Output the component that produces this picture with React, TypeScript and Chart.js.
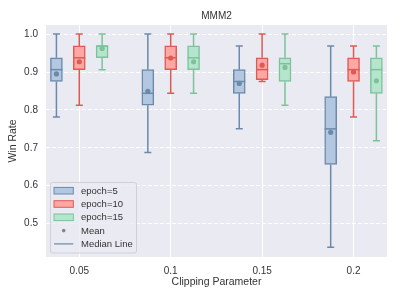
import React, { useEffect, useRef } from "react";
import { Chart, registerables } from "chart.js";

Chart.register(...registerables);

const chartTitle = "MMM2";
const xTitle = "Clipping Parameter";
const yTitle = "Win Rate";
const clipParams = [0.05, 0.1, 0.15, 0.2];
const xTickValues = [0.05, 0.1, 0.15, 0.2];
const yTickValues = [0.5, 0.6, 0.7, 0.8, 0.9, 1.0];
const seriesLabels = ["epoch=5", "epoch=10", "epoch=15"];

const e5Min = [0.78125, 0.6875, 0.75, 0.4375];
const e5Q1 = [0.875, 0.8125, 0.84375, 0.65625];
const e5Median = [0.90625, 0.84375, 0.875, 0.75];
const e5Q3 = [0.9375, 0.90625, 0.90625, 0.835];
const e5Max = [1.0, 1.0, 0.96875, 0.96875];
const e5Mean = [0.895, 0.849, 0.87, 0.741];

const e10Min = [0.8125, 0.84375, 0.875, 0.78125];
const e10Q1 = [0.90625, 0.90625, 0.88, 0.875];
const e10Median = [0.9375, 0.9375, 0.90625, 0.90625];
const e10Q3 = [0.96875, 0.96875, 0.9375, 0.9375];
const e10Max = [1.0, 1.0, 1.0, 0.96875];
const e10Mean = [0.927, 0.937, 0.918, 0.9];

const e15Min = [0.90625, 0.84375, 0.8125, 0.71875];
const e15Q1 = [0.9375, 0.90625, 0.875, 0.84375];
const e15Median = [0.96875, 0.9375, 0.921875, 0.90625];
const e15Q3 = [0.96875, 0.96875, 0.9375, 0.9375];
const e15Max = [1.0, 1.0, 1.0, 0.96875];
const e15Mean = [0.962, 0.927, 0.912, 0.877];

const seriesStats = [
  { min: e5Min, q1: e5Q1, med: e5Median, q3: e5Q3, max: e5Max, mean: e5Mean },
  { min: e10Min, q1: e10Q1, med: e10Median, q3: e10Q3, max: e10Max, mean: e10Mean },
  { min: e15Min, q1: e15Q1, med: e15Median, q3: e15Q3, max: e15Max, mean: e15Mean },
];

const groupOffsets = [-0.0125, 0, 0.0125];
const fillColors = ["#b3c7e0", "#ffa8a3", "#b5e6cd"];
const edgeColors = ["#6b8aab", "#de5a55", "#7dc29b"];
const FONT = "'Liberation Sans', Arial, sans-serif";
const TEXT = "#333333";

const boxPlugin = {
  id: "boxParts",
  beforeDraw(chart: any) {
    const { ctx, chartArea: a } = chart;
    ctx.save();
    ctx.fillStyle = "#eaeaf2";
    ctx.fillRect(a.left, a.top, a.right - a.left, a.bottom - a.top);
    ctx.restore();
  },
  beforeDatasetsDraw(chart: any) {
    const { ctx } = chart;
    const xs = chart.scales.x;
    const ys = chart.scales.y;
    ctx.save();
    seriesStats.forEach((st, s) => {
      ctx.strokeStyle = edgeColors[s];
      ctx.lineWidth = 1.5;
      clipParams.forEach((c, i) => {
        const x = xs.getPixelForValue(c + groupOffsets[s]);
        const yMax = ys.getPixelForValue(st.max[i]);
        const yMin = ys.getPixelForValue(st.min[i]);
        const yQ1 = ys.getPixelForValue(st.q1[i]);
        const yQ3 = ys.getPixelForValue(st.q3[i]);
        ctx.beginPath();
        ctx.moveTo(x, yQ3);
        ctx.lineTo(x, yMax);
        ctx.moveTo(x, yQ1);
        ctx.lineTo(x, yMin);
        ctx.moveTo(x - 3.5, yMax);
        ctx.lineTo(x + 3.5, yMax);
        ctx.moveTo(x - 3.5, yMin);
        ctx.lineTo(x + 3.5, yMin);
        ctx.stroke();
      });
    });
    ctx.restore();
  },
  afterDatasetDraw(chart: any, args: any) {
    const s = args.index;
    if (s > 2) return;
    const { ctx } = chart;
    const xs = chart.scales.x;
    const ys = chart.scales.y;
    const st = seriesStats[s];
    ctx.save();
    ctx.strokeStyle = edgeColors[s];
    ctx.lineWidth = 1.5;
    clipParams.forEach((c, i) => {
      const x = xs.getPixelForValue(c + groupOffsets[s]);
      const y = ys.getPixelForValue(st.med[i]);
      ctx.beginPath();
      ctx.moveTo(x - 6, y);
      ctx.lineTo(x + 6, y);
      ctx.stroke();
    });
    ctx.restore();
  },
  afterDraw(chart: any) {
    const { ctx, chartArea: a } = chart;
    ctx.save();
    // title
    ctx.fillStyle = TEXT;
    ctx.font = `10px ${FONT}`;
    ctx.textAlign = "center";
    ctx.textBaseline = "alphabetic";
    ctx.fillText(chartTitle, (a.left + a.right) / 2, 19);
    // legend
    const lx = a.left + 4.5;
    const ly = 182.5;
    const lw = 86;
    const lh = 70.5;
    ctx.fillStyle = "rgba(234,234,242,0.8)";
    ctx.strokeStyle = "#d0d0d6";
    ctx.lineWidth = 1;
    ctx.beginPath();
    ctx.roundRect(lx, ly, lw, lh, 2);
    ctx.fill();
    ctx.stroke();
    const rowY = (k: number) => 190.7 + k * 13.3;
    ctx.font = `9.5px ${FONT}`;
    ctx.textAlign = "left";
    ctx.textBaseline = "middle";
    seriesLabels.forEach((lab, s) => {
      const y = rowY(s);
      ctx.fillStyle = fillColors[s];
      ctx.fillRect(54, y - 3.3, 19.3, 6.6);
      ctx.strokeStyle = edgeColors[s];
      ctx.lineWidth = 1;
      ctx.strokeRect(54, y - 3.3, 19.3, 6.6);
      ctx.fillStyle = TEXT;
      ctx.fillText(lab, 81, y + 0.5);
    });
    ctx.fillStyle = edgeColors[0];
    ctx.beginPath();
    ctx.arc(63.7, rowY(3), 1.8, 0, Math.PI * 2);
    ctx.fill();
    ctx.fillStyle = TEXT;
    ctx.fillText("Mean", 81, rowY(3) + 0.5);
    ctx.strokeStyle = edgeColors[0];
    ctx.lineWidth = 1.2;
    ctx.beginPath();
    ctx.moveTo(54, rowY(4));
    ctx.lineTo(73.3, rowY(4));
    ctx.stroke();
    ctx.fillStyle = TEXT;
    ctx.fillText("Median Line", 81, rowY(4) + 0.5);
    ctx.restore();
  },
};

export default function App() {
  const ref = useRef<HTMLCanvasElement | null>(null);

  useEffect(() => {
    document.body.style.margin = "0";
    if (!ref.current) return;
    const barSets = seriesStats.map((st, s) => ({
      type: "bar" as const,
      label: seriesLabels[s],
      data: clipParams.map((c, i) => ({ x: c + groupOffsets[s], y: [st.q1[i], st.q3[i]] })),
      backgroundColor: fillColors[s],
      borderColor: edgeColors[s],
      borderWidth: 1.5,
      borderSkipped: false,
      barThickness: 12,
      grouped: false,
      order: 2,
    }));
    const meanSets = seriesStats.map((st, s) => ({
      type: "scatter" as const,
      label: "Mean " + seriesLabels[s],
      data: clipParams.map((c, i) => ({ x: c + groupOffsets[s], y: st.mean[i] })),
      backgroundColor: edgeColors[s],
      pointBackgroundColor: edgeColors[s],
      pointBorderWidth: 0,
      pointRadius: 2.6,
      order: 1,
    }));
    const chart = new Chart(ref.current, {
      type: "bar",
      data: { datasets: [...barSets, ...meanSets] as any },
      plugins: [boxPlugin],
      options: {
        animation: false,
        responsive: false,
        layout: { padding: { top: 25, right: 12, left: 0, bottom: 0 } },
        plugins: {
          legend: { display: false },
          title: { display: false },
          tooltip: { enabled: false },
        },
        scales: {
          x: {
            type: "linear",
            min: 0.0318,
            max: 0.2183,
            offset: false,
            grid: { offset: false, color: "#ffffff", lineWidth: 1, drawTicks: false },
            border: { display: false },
            afterBuildTicks: (scale: any) => {
              scale.ticks = xTickValues.map((v) => ({ value: v }));
            },
            afterFit: (scale: any) => {
              scale.height = 42;
            },
            ticks: {
              padding: 8,
              color: TEXT,
              font: { family: FONT, size: 10 },
              maxRotation: 0,
              callback: (v: any) => String(Number(Number(v).toFixed(3))),
            },
            title: {
              display: true,
              text: xTitle,
              color: TEXT,
              font: { family: FONT, size: 10.5 },
              padding: { top: 0, bottom: 10.5 },
            },
          },
          y: {
            type: "linear",
            min: 0.412,
            max: 1.024,
            grid: { color: "#ffffff", lineWidth: 1, drawTicks: false },
            border: { display: false, dash: [4, 2] },
            afterBuildTicks: (scale: any) => {
              scale.ticks = yTickValues.map((v) => ({ value: v }));
            },
            afterFit: (scale: any) => {
              scale.width = 46;
            },
            ticks: {
              padding: 8,
              color: TEXT,
              font: { family: FONT, size: 10 },
              callback: (v: any) => Number(v).toFixed(1),
            },
            title: {
              display: true,
              text: yTitle,
              color: TEXT,
              font: { family: FONT, size: 10.5 },
              padding: { top: 7, bottom: 0 },
            },
          },
        },
      } as any,
    });
    return () => chart.destroy();
  }, []);

  return (
    <div style={{ width: 399, height: 299 }}>
      <canvas ref={ref} width={399} height={299} style={{ display: "block" }} />
    </div>
  );
}
